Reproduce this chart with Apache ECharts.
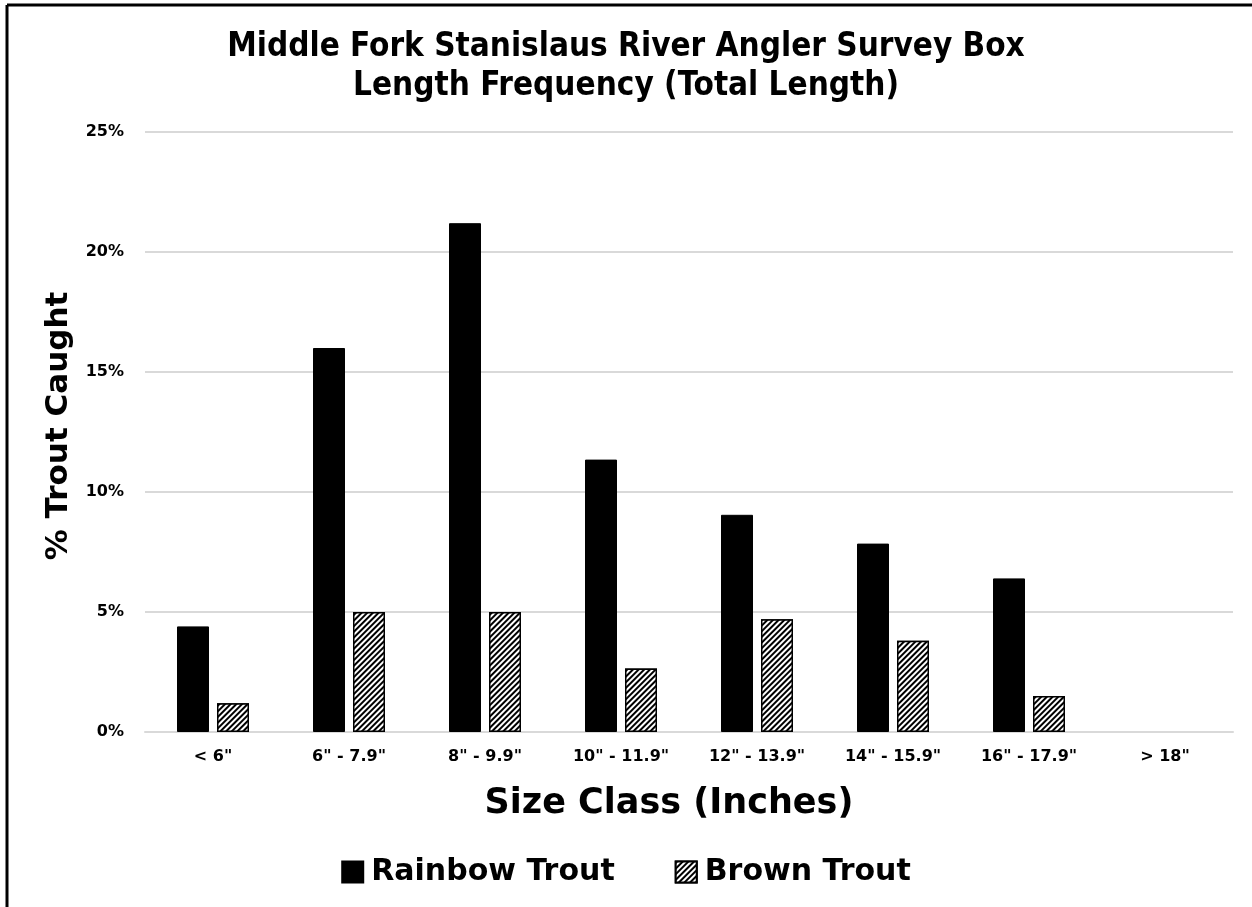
<!DOCTYPE html>
<html><head><meta charset="utf-8">
<script src="https://cdn.jsdelivr.net/npm/echarts@6/dist/echarts.min.js"></script>
<style>html,body{margin:0;padding:0;background:#fff}#c{width:1252px;height:907px}</style>
</head><body><div id="c"></div>
<script>
var categories = ['< 6"', '6" - 7.9"', '8" - 9.9"', '10" - 11.9"', '12" - 13.9"', '14" - 15.9"', '16" - 17.9"', '> 18"'];
var rainbowTrout = [4.4, 16.0, 21.2, 11.35, 9.05, 7.85, 6.4, 0];
var brownTrout = [1.2, 5.0, 5.0, 2.65, 4.7, 3.8, 1.5, 0];
var yTicks = [0, 5, 10, 15, 20, 25];

var FONT = '"DejaVu Sans", Lato, sans-serif';
var TFONT = '"DejaVu Sans Condensed", "DejaVu Sans", sans-serif';
var hatch = {
  symbol: 'rect', symbolSize: 1,
  dashArrayX: [1, 0], dashArrayY: [2, 2],
  rotation: -Math.PI / 4,
  color: '#000', backgroundColor: '#fff'
};
function items(arr) {
  return arr.map(function (v) {
    return v === 0 ? { value: v, itemStyle: { borderWidth: 0, opacity: 0 } } : v;
  });
}
var chart = echarts.init(document.getElementById('c'));
chart.setOption({
  animation: false,
  backgroundColor: '#fff',
  title: {
    text: 'Middle Fork Stanislaus River Angler Survey Box\nLength Frequency (Total Length)',
    left: 'center', top: 23,
    textStyle: { fontFamily: TFONT, fontSize: 33, fontWeight: 'bold', color: '#000', lineHeight: 39 }
  },
  legend: {
    bottom: 15, left: 'center', itemGap: 60, itemWidth: 21, itemHeight: 21,
    textStyle: { fontFamily: FONT, fontSize: 30, fontWeight: 'bold', color: '#000', padding: [0, 0, 0, 3] },
    data: [
      { name: 'Rainbow Trout', icon: 'rect' },
      { name: 'Brown Trout', icon: 'rect' }
    ]
  },
  grid: { left: 145, right: 19, top: 132, bottom: 175, containLabel: false },
  xAxis: {
    type: 'category', data: categories,
    name: 'Size Class (Inches)', nameLocation: 'middle', nameGap: 54,
    nameTextStyle: { fontFamily: FONT, fontSize: 35, fontWeight: 'bold', color: '#000', padding: [0, 40, 0, 0] },
    axisLine: { lineStyle: { color: '#d9d9d9', width: 2 } },
    axisTick: { show: false },
    axisLabel: { fontFamily: FONT, fontSize: 16, fontWeight: 'bold', color: '#000', margin: 17, interval: 0 }
  },
  yAxis: {
    type: 'value', min: 0, max: 25, interval: 5,
    name: '% Trout Caught', nameLocation: 'middle', nameGap: 69,
    nameTextStyle: { fontFamily: FONT, fontSize: 31, fontWeight: 'bold', color: '#000', padding: [0, 0, 0, 12] },
    axisLine: { show: false }, axisTick: { show: false },
    axisLabel: {
      fontFamily: FONT, fontSize: 16, fontWeight: 'bold', color: '#000', margin: 21,
      formatter: function (v) { return yTicks.indexOf(v) >= 0 ? v + '%' : ''; }
    },
    splitLine: { lineStyle: { color: '#d9d9d9', width: 2 } }
  },
  series: [
    {
      name: 'Rainbow Trout', type: 'bar', data: items(rainbowTrout),
      barWidth: 32, barGap: '25%',
      itemStyle: { color: '#000', borderColor: '#000', borderWidth: 1 }
    },
    {
      name: 'Brown Trout', type: 'bar', data: items(brownTrout),
      barWidth: 32, barGap: '25%',
      itemStyle: { color: '#fff', borderColor: '#000', borderWidth: 1.5, decal: hatch }
    }
  ],
  aria: { enabled: true, decal: { show: false } },
  graphic: [
    { type: 'line', shape: { x1: 7, y1: 5, x2: 1252, y2: 5 }, style: { stroke: '#000', lineWidth: 3 } },
    { type: 'line', shape: { x1: 7, y1: 5, x2: 7, y2: 907 }, style: { stroke: '#000', lineWidth: 3 } }
  ]
});
</script></body></html>
